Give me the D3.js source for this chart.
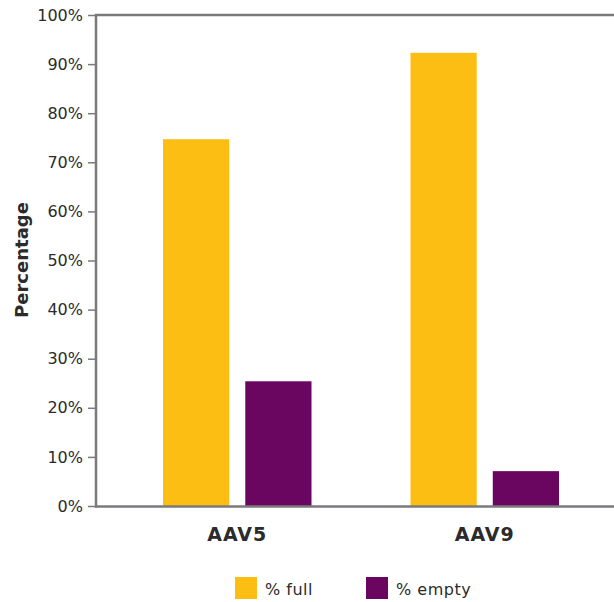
<!DOCTYPE html>
<html>
<head>
<meta charset="utf-8">
<script src="https://cdn.jsdelivr.net/npm/d3@7"></script>
<style>
  body { margin: 0; background: #fff; }
  svg text { font-family: "DejaVu Sans", sans-serif; fill: #2b2b2b; }
</style>
</head>
<body>
<div id="chart"></div>
<script>
const categories = ['AAV5', 'AAV9'];
const seriesNames = ['% full', '% empty'];
const fullValues = [74.7, 92.3];
const emptyValues = [25.4, 7.1];
const yTicks = [0, 10, 20, 30, 40, 50, 60, 70, 80, 90, 100];

const width = 614, height = 602;
const colors = d3.scaleOrdinal().domain(seriesNames).range(['#FDBE13', '#6A065F']);

const svg = d3.select('#chart').append('svg')
  .attr('width', width)
  .attr('height', height);

// scales
const y = d3.scaleLinear().domain([0, 100]).range([506, 15]);
const x0 = d3.scaleBand().domain(categories)
  .range([113.5, 608.5]).paddingInner(0.4).paddingOuter(0.2);
const x1 = d3.scaleBand().domain(seriesNames)
  .range([0, x0.bandwidth()]).paddingInner(0.195);

const rows = categories.map((c, i) => ({
  cat: c,
  vals: [
    { name: seriesNames[0], v: fullValues[i] },
    { name: seriesNames[1], v: emptyValues[i] },
  ],
}));

// bars
svg.append('g').selectAll('g')
  .data(rows)
  .join('g')
  .attr('transform', (d) => `translate(${x0(d.cat)},0)`)
  .selectAll('rect')
  .data((d) => d.vals)
  .join('rect')
  .attr('x', (d) => x1(d.name))
  .attr('width', x1.bandwidth())
  .attr('y', (d) => y(d.v))
  .attr('height', (d) => y(0) - y(d.v))
  .attr('fill', (d) => colors(d.name));

// y axis
const yAxis = svg.append('g')
  .attr('transform', 'translate(96,0)')
  .call(d3.axisLeft(y).tickValues(yTicks).tickFormat((d) => d + '%')
    .tickSize(8).tickPadding(5));
yAxis.select('.domain').remove();
yAxis.selectAll('.tick line').attr('stroke', '#7a7a7c').attr('stroke-width', 1.5);
yAxis.selectAll('.tick text').style('font-size', '16px').attr('fill', '#2b2b2b');

// frame lines
svg.append('line').attr('x1', 96).attr('x2', 96)
  .attr('y1', y(100) - 1).attr('y2', y(0) + 1.5)
  .attr('stroke', '#7a7a7c').attr('stroke-width', 2.5);
svg.append('line').attr('x1', 95).attr('x2', width)
  .attr('y1', y(100)).attr('y2', y(100))
  .attr('stroke', '#7a7a7c').attr('stroke-width', 2.5);
svg.append('line').attr('x1', 95).attr('x2', width)
  .attr('y1', y(0) + 0.5).attr('y2', y(0) + 0.5)
  .attr('stroke', '#7a7a7c').attr('stroke-width', 2.5);

// category labels
svg.append('g').selectAll('text')
  .data(categories)
  .join('text')
  .attr('x', (d) => x0(d) + x0.bandwidth() / 2)
  .attr('y', 541)
  .attr('text-anchor', 'middle')
  .style('font-size', '19px')
  .style('font-weight', 'bold')
  .style('letter-spacing', '1px')
  .text((d) => d);

// y label
svg.append('text')
  .attr('transform', 'translate(28,260) rotate(-90)')
  .attr('text-anchor', 'middle')
  .style('font-size', '18px')
  .style('font-weight', 'bold')
  .text('Percentage');

// legend
const legendX = [235, 366];
const legend = svg.append('g').selectAll('g')
  .data(seriesNames)
  .join('g')
  .attr('transform', (d, i) => `translate(${legendX[i]},577)`);
legend.append('rect')
  .attr('width', 22).attr('height', 22)
  .attr('fill', (d) => colors(d));
legend.append('text')
  .attr('x', 30).attr('y', 18)
  .style('font-size', '16px')
  .style('letter-spacing', '0.5px')
  .text((d) => d);
</script>
</body>
</html>
